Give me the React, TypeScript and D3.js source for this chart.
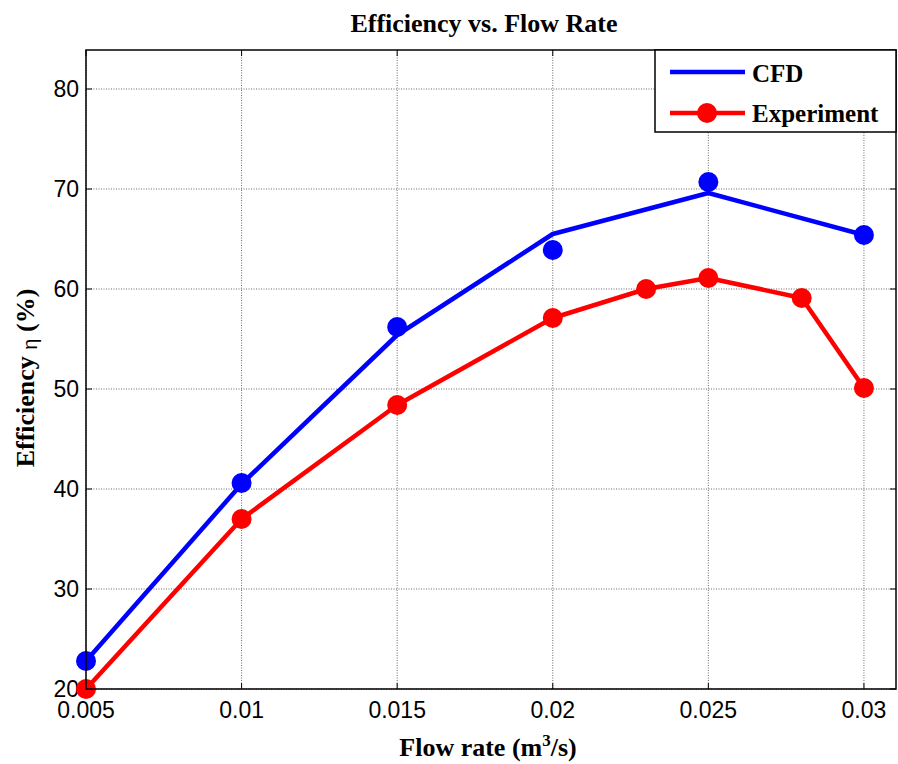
import React from "react";
import * as d3 from "d3";

const xTicks = [0.005, 0.01, 0.015, 0.02, 0.025, 0.03];
const xTickLabels = ["0.005", "0.01", "0.015", "0.02", "0.025", "0.03"];
const yTicks = [20, 30, 40, 50, 60, 70, 80];

const cfdLineX = [0.005, 0.01, 0.015, 0.02, 0.025, 0.03];
const cfdLineY = [22.8, 40.5, 55.4, 65.5, 69.6, 65.4];
const cfdPointX = [0.005, 0.01, 0.015, 0.02, 0.025, 0.03];
const cfdPointY = [22.8, 40.6, 56.2, 63.9, 70.7, 65.4];

const expX = [0.005, 0.01, 0.015, 0.02, 0.023, 0.025, 0.028, 0.03];
const expY = [20.0, 37.0, 48.4, 57.1, 60.0, 61.1, 59.1, 50.1];

const W = 898, H = 764;
const L = 86, R = 896, T = 50, B = 689;

export default function App() {
  const x = d3.scaleLinear().domain([0.005, 0.03103]).range([L, R]);
  const y = d3.scaleLinear().domain([20, 83.9]).range([B, T]);
  const line = d3.line<[number, number]>().x(d => x(d[0])).y(d => y(d[1]));
  const cfdLine = cfdLineX.map((v, i) => [v, cfdLineY[i]] as [number, number]);
  const expLine = expX.map((v, i) => [v, expY[i]] as [number, number]);
  const serif = "'Times New Roman', 'Liberation Serif', serif";
  const sans = "Arial, 'Liberation Sans', sans-serif";
  return (
    <svg width={W} height={H} style={{ position: "absolute", left: 0, top: 0, background: "#fff" }}>
      <rect x={0} y={0} width={W} height={H} fill="#fff" />
      {/* grid */}
      {xTicks.map((t, i) => (
        <line key={"gx" + i} x1={x(t)} x2={x(t)} y1={T} y2={B} stroke="#444" strokeWidth={0.8} strokeDasharray="1,1.5" />
      ))}
      {yTicks.map((t, i) => (
        <line key={"gy" + i} x1={L} x2={R} y1={y(t)} y2={y(t)} stroke="#444" strokeWidth={0.8} strokeDasharray="1,1.5" />
      ))}
      {/* ticks */}
      {xTicks.map((t, i) => (
        <g key={"tx" + i}>
          <line x1={x(t)} x2={x(t)} y1={B} y2={B - 6} stroke="#000" strokeWidth={1} />
          <line x1={x(t)} x2={x(t)} y1={T} y2={T + 6} stroke="#000" strokeWidth={1} />
          <text x={x(t)} y={B + 29} textAnchor="middle" fontFamily={sans} fontSize={23} fill="#000">{xTickLabels[i]}</text>
        </g>
      ))}
      {yTicks.map((t, i) => (
        <g key={"ty" + i}>
          <line x1={L} x2={L + 6} y1={y(t)} y2={y(t)} stroke="#000" strokeWidth={1} />
          <line x1={R} x2={R - 6} y1={y(t)} y2={y(t)} stroke="#000" strokeWidth={1} />
          <text x={L - 7} y={y(t) + 8} textAnchor="end" fontFamily={sans} fontSize={23} fill="#000">{t}</text>
        </g>
      ))}
      {/* series */}
      <path d={line(cfdLine) || ""} fill="none" stroke="#0000ff" strokeWidth={4.5} strokeLinejoin="round" />
      {cfdPointX.map((v, i) => (
        <circle key={"cp" + i} cx={x(v)} cy={y(cfdPointY[i])} r={10} fill="#0000ff" />
      ))}
      <path d={line(expLine) || ""} fill="none" stroke="#ff0000" strokeWidth={4.5} strokeLinejoin="round" />
      {expX.map((v, i) => (
        <circle key={"ep" + i} cx={x(v)} cy={y(expY[i])} r={10} fill="#ff0000" />
      ))}
      {/* frame */}
      <rect x={L} y={T} width={R - L} height={B - T} fill="none" stroke="#000" strokeWidth={1.5} />
      {/* legend */}
      <rect x={655} y={T} width={R - 655} height={82} fill="#fff" stroke="#000" strokeWidth={1.5} />
      <line x1={670} x2={745} y1={72} y2={72} stroke="#0000ff" strokeWidth={4.5} />
      <text x={752} y={82} fontFamily={serif} fontWeight="bold" fontSize={25} fill="#000">CFD</text>
      <line x1={670} x2={745} y1={113} y2={113} stroke="#ff0000" strokeWidth={4.5} />
      <circle cx={707} cy={113} r={10} fill="#ff0000" />
      <text x={752} y={122} fontFamily={serif} fontWeight="bold" fontSize={25} fill="#000">Experiment</text>
      {/* titles */}
      <text x={484} y={32} textAnchor="middle" fontFamily={serif} fontWeight="bold" fontSize={26} fill="#000">Efficiency vs. Flow Rate</text>
      <text x={488} y={756} textAnchor="middle" fontFamily={serif} fontWeight="bold" fontSize={26} fill="#000">
        Flow rate (m<tspan dy={-10} fontSize={17}>3</tspan><tspan dy={10}>/s)</tspan>
      </text>
      <text transform={`translate(34, ${378}) rotate(-90)`} textAnchor="middle" fontFamily={serif} fontWeight="bold" fontSize={26} fill="#000">
        Efficiency <tspan fontWeight="normal" fontFamily={sans} fontSize={20} dy={3}>η</tspan><tspan dy={-3}> (%)</tspan>
      </text>
    </svg>
  );
}
